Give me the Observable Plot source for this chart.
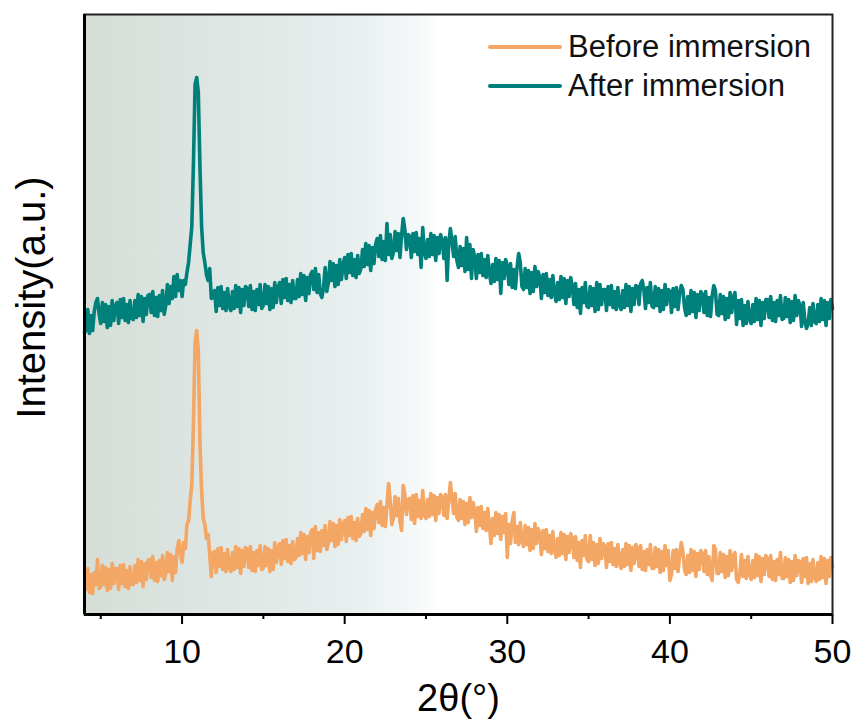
<!DOCTYPE html>
<html><head><meta charset="utf-8">
<script src="https://cdn.jsdelivr.net/npm/d3@7"></script>
<script src="https://cdn.jsdelivr.net/npm/@observablehq/plot@0.6"></script>
<style>
body{margin:0;background:#fff;}
#wrap{position:relative;width:857px;height:722px;font-family:"Liberation Sans",Arial,sans-serif;}
#legend{position:absolute;left:488px;top:27px;}
.item{display:flex;align-items:center;height:39px;font-size:31px;color:#111;white-space:nowrap;}
.item svg{margin-right:6px;display:block;}
</style></head><body><div id="wrap"><div id="legend"></div></div>
<script>
const seriesNames = ["Before immersion", "After immersion"];
const seriesColors = ["#f4a664", "#00807b"];
const twoThetaStart = 4;
const twoThetaStep = 0.1;
const xDomain = [4, 50];
const yDomain = [0, 600];
const shadeRange = [4, 26];
const xMajorTicks = [10, 20, 30, 40, 50];
const xMinorTicks = [5, 15, 25, 35, 45];
const xTitle = "2θ(°)";
const yTitle = "Intensity(a.u.)";

const beforeIntensity = [
43,25,46,22,40,21,42,30,55,26,
28,49,30,47,24,45,26,51,31,46,
46,25,49,31,50,28,44,26,48,30,
30,49,32,55,34,53,28,51,35,54,
55,37,58,34,52,33,54,39,59,35,
41,62,43,60,34,58,42,66,74,60,
52,72,66,90,94,114,130,192,272,284,
264,172,124,96,90,76,80,60,38,62,
63,42,66,48,67,45,61,43,65,47,
43,62,45,68,47,66,41,64,48,67,
65,47,68,44,62,43,64,49,69,45,
47,68,49,66,43,64,45,72,52,67,
71,50,74,56,75,53,69,51,73,55,
57,76,59,82,61,80,55,78,62,81,
85,56,88,64,82,63,84,69,89,65,
72,93,74,91,68,89,70,95,75,90,
94,73,97,79,98,76,92,74,96,78,
81,100,83,106,85,104,79,102,86,105,
110,92,113,89,107,88,109,131,114,90,
97,118,99,116,93,84,129,120,100,115,
116,95,119,91,120,98,114,96,124,100,
96,115,98,121,100,119,94,117,101,120,
117,99,120,96,114,132,116,101,121,97,
94,115,96,113,90,111,92,117,97,112,
104,83,107,89,108,86,102,84,106,88,
71,96,79,102,81,100,75,98,82,101,
57,90,71,93,102,72,88,70,92,74,
68,89,70,87,64,85,66,91,71,86,
81,60,84,66,85,63,79,61,83,65,
57,76,59,82,61,80,55,78,62,81,
75,57,78,54,72,47,74,59,79,55,
53,79,55,72,49,70,51,76,56,71,
68,47,71,53,72,50,66,48,70,52,
46,65,48,71,50,69,44,67,51,70,
66,48,69,45,63,44,65,50,70,46,
46,67,48,65,42,63,44,69,49,64,
34,40,64,46,65,43,59,72,63,45,
40,59,42,65,44,63,38,61,45,64,
61,43,64,40,58,39,34,69,65,41,
41,62,43,60,37,58,39,64,44,59,
62,35,32,41,60,38,54,36,58,40,
35,54,37,60,39,58,33,56,40,59,
56,38,59,35,53,34,55,40,62,36,
36,57,38,55,32,53,34,59,39,54,
53,32,56,38,57,31,51,33,55,37,
33,52,35,58,37,56,31,54,38,57,
48
];

const afterIntensity = [
282,284,305,281,299,284,303,312,316,300,
291,312,293,310,287,308,289,314,294,309,
312,291,315,297,316,294,310,292,314,296,
295,314,297,320,299,318,293,316,300,319,
320,302,323,299,317,298,319,304,324,300,
309,330,311,328,316,338,318,340,324,334,
318,334,330,342,352,370,388,452,530,537,
522,448,388,362,352,340,334,346,316,318,
324,303,327,309,328,306,322,304,326,308,
304,323,306,329,308,327,302,325,309,328,
326,308,329,305,323,304,325,310,330,306,
309,330,311,328,305,326,307,332,312,327,
332,311,335,317,336,314,330,312,334,316,
316,335,318,341,320,339,314,337,321,340,
343,325,346,322,340,321,317,327,347,323,
332,353,334,351,328,349,330,355,335,350,
357,336,360,342,361,339,355,337,359,341,
346,365,348,371,350,369,344,367,351,370,
376,358,379,355,373,354,391,360,380,356,
362,383,364,381,357,379,396,385,365,380,
378,357,381,363,382,360,376,347,387,362,
356,375,358,381,360,379,354,377,361,380,
374,356,377,334,371,386,373,358,378,354,
347,368,349,366,343,377,345,370,336,365,
357,336,360,342,361,339,355,337,359,341,
331,350,333,356,335,354,321,352,336,355,
348,330,351,327,345,326,347,361,352,328,
325,346,327,344,321,342,323,348,328,343,
337,316,340,322,341,319,335,317,339,321,
313,332,315,338,317,336,311,334,318,337,
328,310,331,307,325,301,327,312,332,308,
307,328,309,326,303,332,305,330,310,325,
325,304,328,310,329,307,323,305,327,309,
305,324,307,330,309,328,303,326,310,329,
328,310,331,334,325,306,327,312,332,308,
307,328,309,326,303,324,305,330,310,325,
323,302,326,308,327,305,321,329,325,307,
299,318,301,324,303,322,297,320,304,323,
320,302,323,299,317,298,319,329,324,300,
299,320,301,318,295,316,297,322,302,317,
322,290,314,296,315,289,309,291,313,295,
291,310,293,316,295,314,289,312,296,315,
315,297,318,294,312,293,314,299,319,295,
296,317,298,315,292,313,294,319,299,314,
309,288,312,294,286,291,307,289,311,293,
291,310,293,316,295,314,289,312,296,315,
306
];

const toRows = (arr) => arr.map((v, i) => ({x: twoThetaStart + i * twoThetaStep, y: v}));
const beforeRows = toRows(beforeIntensity);
const afterRows = toRows(afterIntensity);

const svg = Plot.plot({
  width: 857,
  height: 722,
  marginLeft: 84,
  marginRight: 25,
  marginTop: 14,
  marginBottom: 108,
  x: {domain: xDomain},
  y: {domain: yDomain, axis: null},
  style: {fontFamily: "'Liberation Sans', Arial, sans-serif", background: "white", color: "black", overflow: "visible"},
  marks: [
    Plot.rect([shadeRange], {x1: d => d[0], x2: d => d[1], y1: yDomain[0], y2: yDomain[1], fill: "url(#bgGrad)"}),
    Plot.line(beforeRows, {x: "x", y: "y", stroke: seriesColors[0], strokeWidth: 3.6}),
    Plot.line(afterRows, {x: "x", y: "y", stroke: seriesColors[1], strokeWidth: 3.6}),
    Plot.axisX({ticks: xMajorTicks, tickSize: 10, tickPadding: 14, fontSize: 34, label: null, strokeWidth: 2}),
    Plot.axisX({ticks: xMinorTicks, tickSize: 5, tickFormat: () => "", label: null, strokeWidth: 2}),
    Plot.frame({stroke: "#222", strokeWidth: 2}),
    Plot.ruleX([xDomain[0]], {stroke: "black", strokeWidth: 3}),
    Plot.ruleY([yDomain[0]], {stroke: "black", strokeWidth: 3}),
    Plot.text([xTitle], {text: d => d, frameAnchor: "bottom", lineAnchor: "middle", dy: 84, fontSize: 38, fill: "black"}),
    Plot.text([yTitle], {text: d => d, frameAnchor: "left", textAnchor: "middle", lineAnchor: "middle", rotate: -90, dx: -52, dy: -17, fontSize: 40, fill: "black"})
  ]
});

const ns = "http://www.w3.org/2000/svg";
const defs = document.createElementNS(ns, "defs");
const grad = document.createElementNS(ns, "linearGradient");
grad.setAttribute("id", "bgGrad");
grad.setAttribute("x1", "0"); grad.setAttribute("x2", "1");
grad.setAttribute("y1", "0"); grad.setAttribute("y2", "0");
[["0", "#d5ddd5"], ["0.27", "#dbe4e0"], ["0.73", "#e7eeee"], ["0.91", "#f3f7f7"], ["1", "#ffffff"]].forEach(([o, c]) => {
  const s = document.createElementNS(ns, "stop");
  s.setAttribute("offset", o); s.setAttribute("stop-color", c);
  grad.appendChild(s);
});
defs.appendChild(grad);
svg.insertBefore(defs, svg.firstChild);

const wrap = document.getElementById("wrap");
wrap.insertBefore(svg, wrap.firstChild);

const legend = document.getElementById("legend");
seriesNames.forEach((name, i) => {
  const item = document.createElement("div");
  item.className = "item";
  item.innerHTML = `<svg width="74" height="6"><line x1="2" x2="72" y1="3" y2="3" stroke="${seriesColors[i]}" stroke-width="4" stroke-linecap="round"/></svg><span>${name}</span>`;
  legend.appendChild(item);
});
</script>
</body></html>
